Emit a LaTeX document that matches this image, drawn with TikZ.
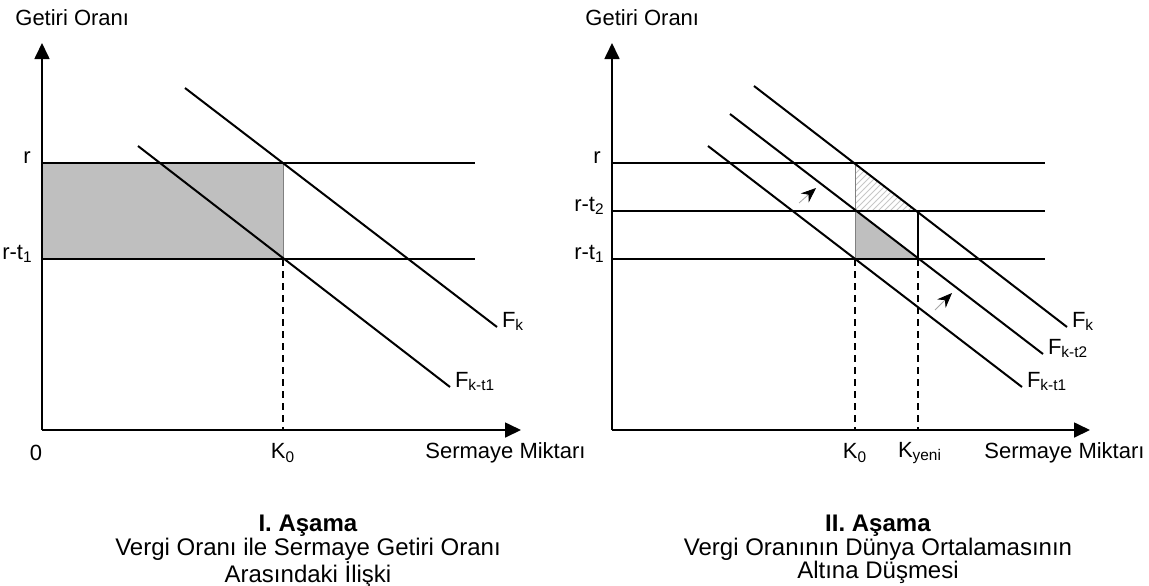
\documentclass[tikz,border=0pt]{standalone}
\usepackage{fontspec}
\setmainfont{Liberation Sans}
\usetikzlibrary{arrows.meta,patterns}
\tikzset{
  axis/.style={line width=0.85pt, -{Triangle[length=8pt, width=7.5pt]}},
  lvl/.style={line width=1pt},
  curve/.style={line width=1pt},
  guide/.style={line width=1pt, dash pattern=on 3.5pt off 2.5pt},
  edge/.style={black!50, line width=0.4pt},
  lbl/.style={font=\fontsize{11}{13}\selectfont, inner sep=1pt},
  caption/.style={font=\fontsize{12}{11.6}\selectfont, inner sep=1pt, align=center, anchor=north},
  area/.style={fill=black!25},
  hatch/.style={pattern=north east lines, pattern color=black!22},
  nudge/.style={black!35, line width=0.4pt, -{Stealth[black, length=7.5pt, width=6pt, inset=2.5pt]}}
}

\begin{document}
\begin{tikzpicture}[x=0.5pt, y=-0.5pt]
\useasboundingbox (0,0) rectangle (1149,585);

% I. Asama
\coordinate (o1) at (42,430);
\coordinate (ka) at (283,163);
\coordinate (kb) at (283,259);
\fill[area] (42,163) rectangle (kb);
\draw[edge] (ka) -- (kb);
\draw[lvl] (42,163) -- (475,163);
\draw[lvl] (42,259) -- (475,259);
\draw[guide] (kb) -- (283,430);
\draw[curve] (185,88) -- (497,327) node[lbl, anchor=base west, xshift=1pt] (fk1) {F\textsubscript{k}};
\draw[curve] (138,146) -- (450,387) node[lbl, anchor=base west, xshift=1pt] (fkt1) {F\textsubscript{k-t1}};
\draw[axis] (o1) -- (42,43);
\draw[axis] (o1) -- (521,430);

\node[lbl, anchor=west] (gor1) at (13,18) {Getiri Oranı};
\node[lbl, anchor=base east] (r1) at (33,163) {r};
\node[lbl, anchor=base east] (rt1) at (35,259) {r-t\textsubscript{1}};
\node[lbl] (zero) at (36,453) {0};
\node[lbl] (k01) at (283,453) {K\textsubscript{0}};
\node[lbl, anchor=west] (sm1) at (423,453) {Sermaye Miktarı};
\node[caption] (cap1) at (308,513) {\textbf{I. Aşama}\\Vergi Oranı ile Sermaye Getiri Oranı\\Arasındaki İlişki};

% II. Asama
\coordinate (o2) at (612,430);
\coordinate (ra) at (855,163);
\coordinate (rb) at (855,211);
\coordinate (rc) at (855,259);
\coordinate (sa) at (918,211);
\coordinate (sb) at (918,259);
\fill[hatch] (ra) -- (rb) -- (sa) -- cycle;
\fill[area] (rb) -- (rc) -- (sb) -- cycle;
\draw[edge] (ra) -- (rc);
\draw[lvl] (612,163) -- (1045,163);
\draw[lvl] (612,211) -- (1045,211);
\draw[lvl] (612,259) -- (1045,259);
\draw[lvl] (sa) -- (sb);
\draw[guide] (rc) -- (855,430);
\draw[guide] (sb) -- (918,430);
\draw[curve] (754,86) -- (1067,327) node[lbl, anchor=base west, xshift=1pt] (fk2) {F\textsubscript{k}};
\draw[curve] (730,114) -- (1043,354) node[lbl, anchor=base west, xshift=1pt] (fkt2) {F\textsubscript{k-t2}};
\draw[curve] (708,146) -- (1022,387) node[lbl, anchor=base west, xshift=1pt] (fkt3) {F\textsubscript{k-t1}};
\draw[nudge] (799,203) -- (816,188);
\draw[nudge] (935,310) -- (952,293);
\draw[axis] (o2) -- (612,43);
\draw[axis] (o2) -- (1090,430);

\node[lbl, anchor=west] (gor2) at (583,18) {Getiri Oranı};
\node[lbl, anchor=base east] (r2) at (603,163) {r};
\node[lbl, anchor=base east] (rt2) at (607,211) {r-t\textsubscript{2}};
\node[lbl, anchor=base east] (rt3) at (607,259) {r-t\textsubscript{1}};
\node[lbl] (k02) at (855,453) {K\textsubscript{0}};
\node[lbl] (kyeni) at (920,453) {K\textsubscript{yeni}};
\node[lbl, anchor=west] (sm2) at (982,453) {Sermaye Miktarı};
\node[caption] (cap2) at (878,513) {\textbf{II. Aşama}\\Vergi Oranının Dünya Ortalamasının\\Altına Düşmesi};
\end{tikzpicture}
\end{document}
